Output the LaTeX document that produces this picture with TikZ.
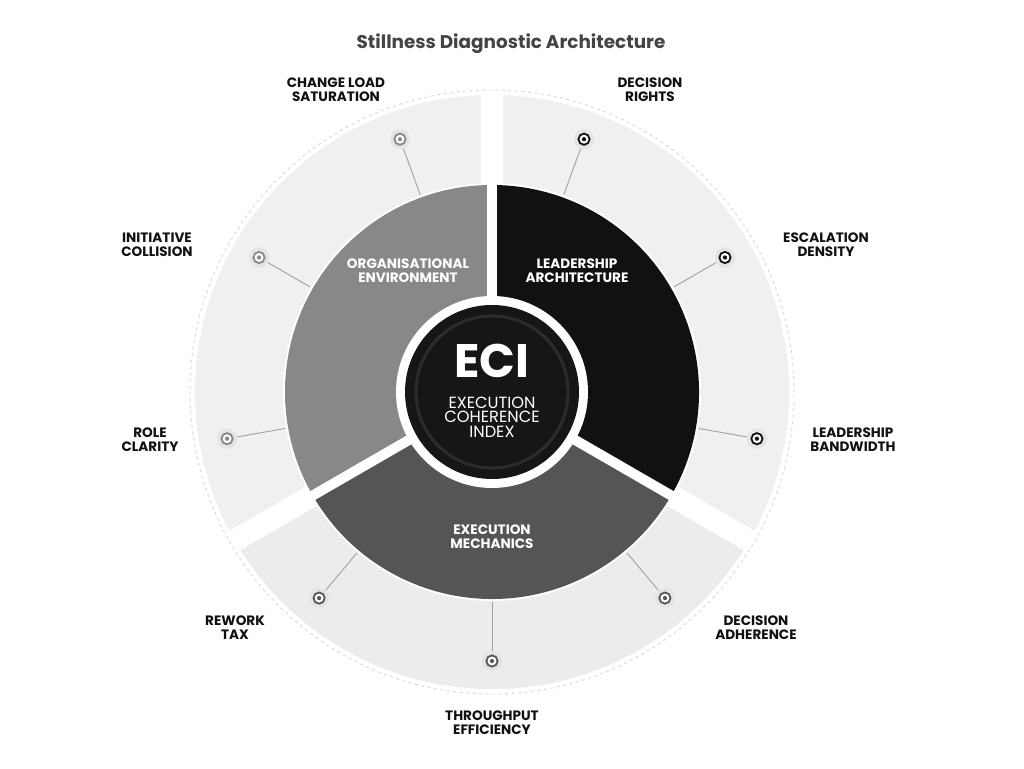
\documentclass[tikz,border=0pt]{standalone}
\usepackage{fontspec}
\setmainfont{Poppins}
\usetikzlibrary{calc}
\definecolor{cL}{HTML}{111111}
\definecolor{cO}{HTML}{888888}
\definecolor{cE}{HTML}{555555}
\definecolor{ringA}{HTML}{F0F0F0}
\definecolor{ringB}{HTML}{ECECEC}
\definecolor{halo}{HTML}{E4E4E4}
\definecolor{conn}{HTML}{A0A0A0}
\definecolor{titlec}{HTML}{444444}
\definecolor{core}{HTML}{161616}
\definecolor{coreline}{HTML}{2C2C2C}
\definecolor{dashc}{HTML}{D8D8D8}
\tikzset{
  lbl/.style={align=center, font=\fontsize{13.6}{14}\selectfont\bfseries, text=cL, inner sep=0pt},
  seglbl/.style={align=center, font=\fontsize{13.6}{14}\selectfont\bfseries, text=white, inner sep=0pt},
  halonode/.style={circle, fill=halo, minimum size=20pt, inner sep=0pt},
  connline/.style={draw=conn, line width=0.9pt},
  gapline/.style={draw=white, line width=#1},
}
\begin{document}
\begin{tikzpicture}[x=1pt,y=1pt]
\useasboundingbox (0,0) rectangle (1024,768);
\fill[white] (0,0) rectangle (1024,768);
\coordinate (C) at (492,376);

% outer ring sectors
\fill[ringA] (C) -- ([shift={(-30:297pt)}]C) arc[start angle=-30, end angle=90, radius=297pt] -- cycle;
\fill[ringA] (C) -- ([shift={(90:297pt)}]C) arc[start angle=90, end angle=210, radius=297pt] -- cycle;
\fill[ringB] (C) -- ([shift={(210:297pt)}]C) arc[start angle=210, end angle=330, radius=297pt] -- cycle;
\fill[white] (C) circle[radius=209pt];
% outer gaps
\foreach \a in {90,210,330} \draw[gapline=22pt] (C) -- ([shift={(\a:306pt)}]C);
% dashed guide circle
\draw[dashc, line width=0.9pt, dash pattern=on 3pt off 3.5pt] (C) circle[radius=302pt];

% middle sectors
\fill[cL] (C) -- ([shift={(-30:207pt)}]C) arc[start angle=-30, end angle=90, radius=207pt] -- cycle;
\fill[cO] (C) -- ([shift={(90:207pt)}]C) arc[start angle=90, end angle=210, radius=207pt] -- cycle;
\fill[cE] (C) -- ([shift={(210:207pt)}]C) arc[start angle=210, end angle=330, radius=207pt] -- cycle;
\foreach \a in {90,210,330} \draw[gapline=10pt] (C) -- ([shift={(\a:210pt)}]C);

% core
\fill[white] (C) circle[radius=96pt];
\fill[core] (C) circle[radius=87pt];
\draw[coreline, line width=3pt] (C) circle[radius=76pt];

% markers and connectors
\foreach \a/\col/\n in {70/cL/1, 30/cL/2, -10/cL/3, 110/cO/4, 150/cO/5, 190/cO/6, 230/cE/7, 270/cE/8, 310/cE/9} {
  \node[halonode] (m\n) at ([shift={(\a:269pt)}]C) {};
  \draw[draw=\col, fill=white, line width=1.8pt] (m\n.center) circle[radius=5.6pt];
  \fill[\col] (m\n.center) circle[radius=2.1pt];
  \coordinate (e\n) at ([shift={(\a:210pt)}]C);
  \draw[connline] (m\n) -- (e\n);
}

% texts
\node[font=\fontsize{18.4}{20}\selectfont\bfseries, text=titlec, inner sep=0pt] (title) at (511,724) {Stillness Diagnostic Architecture};

\node[font=\fontsize{47}{47}\selectfont\bfseries, text=white, inner sep=0pt] (eci) at (492,407) {ECI};
\node[align=center, font=\fontsize{16.2}{14.6}\selectfont, text=white, inner sep=0pt] (ecisub) at (492,351) {EXECUTION\\COHERENCE\\INDEX};

\node[seglbl] (segL) at (577,497) {LEADERSHIP\\ARCHITECTURE};
\node[seglbl] (segO) at (408,497) {ORGANISATIONAL\\ENVIRONMENT};
\node[seglbl] (segE) at (492,231) {EXECUTION\\MECHANICS};

\node[lbl] (l1) at (650,678) {DECISION\\RIGHTS};
\node[lbl] (l2) at (826,523) {ESCALATION\\DENSITY};
\node[lbl] (l3) at (853,328) {LEADERSHIP\\BANDWIDTH};
\node[lbl] (l4) at (336,678) {CHANGE LOAD\\SATURATION};
\node[lbl] (l5) at (157,523) {INITIATIVE\\COLLISION};
\node[lbl] (l6) at (150,328) {ROLE\\CLARITY};
\node[lbl] (l7) at (235,140) {REWORK\\TAX};
\node[lbl] (l8) at (492,45) {THROUGHPUT\\EFFICIENCY};
\node[lbl] (l9) at (756,140) {DECISION\\ADHERENCE};
\end{tikzpicture}
\end{document}
